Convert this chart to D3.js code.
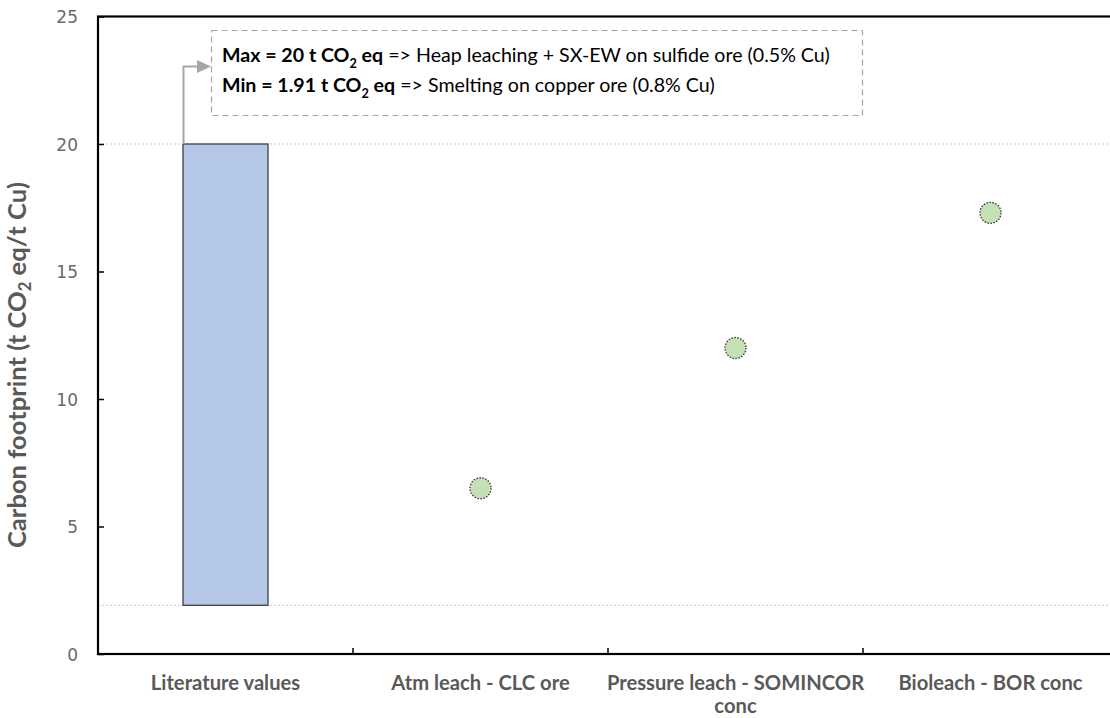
<!DOCTYPE html>
<html><head><meta charset="utf-8">
<script src="https://cdn.jsdelivr.net/npm/d3@7"></script>
<style>body{margin:0;background:#fff;} svg{display:block;font-family:Lato,"Open Sans",sans-serif;}</style>
</head><body>
<svg id="c" width="1110" height="718"></svg>
<script>
const categories = ["Literature values","Atm leach - CLC ore","Pressure leach - SOMINCOR conc","Bioleach - BOR conc"];
const rangeCategory = "Literature values";
const rangeMin = 1.91, rangeMax = 20;
const pointCategories = ["Atm leach - CLC ore","Pressure leach - SOMINCOR conc","Bioleach - BOR conc"];
const pointValues = [6.5, 12.0, 17.3];
const yTicks = [0,5,10,15,20,25];
const annoLines = [
  {bold:"Max = 20 t CO", sub:"2", bold2:" eq", rest:" => Heap leaching + SX-EW on sulfide ore (0.5% Cu)"},
  {bold:"Min = 1.91 t CO", sub:"2", bold2:" eq", rest:" => Smelting on copper ore (0.8% Cu)"}
];

const svg = d3.select("#c");
const L=98, R=1118, T=16.5, B=654;
const x = d3.scaleBand().domain(categories).range([L,R]);
const y = d3.scaleLinear().domain([0,25]).range([B,T]);

function fit(sel, base, target){
  sel.style("font-size", base+"px");
  const w = sel.node().getBBox().width;
  const s = base*target/w;
  sel.style("font-size", s+"px");
  return s;
}

svg.selectAll("line.ref").data([rangeMax, rangeMin]).join("line")
  .attr("x1",L).attr("x2",R).attr("y1",d=>y(d)).attr("y2",d=>y(d))
  .attr("stroke","#c8c8c8").attr("stroke-width",1).attr("stroke-dasharray","2,2");

const bw = x.bandwidth()/3;
svg.append("rect")
  .attr("x", x(rangeCategory)+x.bandwidth()/2-bw/2).attr("width",bw)
  .attr("y", y(rangeMax)).attr("height", y(rangeMin)-y(rangeMax))
  .attr("fill","#b4c7e7").attr("stroke","#404040").attr("stroke-width",1.3);

svg.selectAll("circle.pt").data(pointValues).join("circle")
  .attr("cx",(d,i)=>x(pointCategories[i])+x.bandwidth()/2)
  .attr("cy",d=>y(d)).attr("r",10.5)
  .attr("fill","#c5e0b4").attr("stroke","#333").attr("stroke-width",1.3).attr("stroke-dasharray","1.5,1.5");

const yAxis = d3.axisLeft(y).tickValues(yTicks).tickSize(6).tickPadding(10);
const gy = svg.append("g").attr("transform",`translate(${L},0)`).call(yAxis);
gy.attr("font-family","DejaVu Sans").attr("font-size",17);
gy.select(".domain").remove();
gy.selectAll(".tick line").attr("stroke","#000").attr("stroke-width",1.5).attr("x1",0).attr("x2",6);
gy.selectAll(".tick text").attr("fill","#6a6a6a").attr("x",-20).attr("dy","0.36em").attr("text-anchor","end");

const gx = svg.append("g").attr("transform",`translate(0,${B})`).call(d3.axisBottom(x).tickSize(0).tickFormat(""));
gx.select(".domain").remove();
svg.selectAll("line.ct").data(categories.slice(1)).join("line")
  .attr("x1",d=>x(d)).attr("x2",d=>x(d)).attr("y1",B).attr("y2",B-6)
  .attr("stroke","#000").attr("stroke-width",1.5);

svg.append("rect").attr("x",L).attr("y",T).attr("width",R-L).attr("height",B-T)
  .attr("fill","none").attr("stroke","#000").attr("stroke-width",2.2);

const labelLines = {"Pressure leach - SOMINCOR conc":["Pressure leach - SOMINCOR","conc"]};
const tmp = svg.append("text").style("font-weight","bold").text(categories[0]);
const catSize = fit(tmp, 15, 150); tmp.remove();
categories.forEach(c=>{
  const lines = labelLines[c] || [c];
  const t = svg.append("text").attr("x",x(c)+x.bandwidth()/2).attr("y",690)
    .attr("text-anchor","middle").attr("fill","#595959").style("font-weight","bold").style("font-size",catSize+"px");
  lines.forEach((l,i)=>t.append("tspan").attr("x",x(c)+x.bandwidth()/2).attr("dy",i?23:0).text(l));
});

const yt = svg.append("text").attr("transform","translate(26,365) rotate(-90)")
  .attr("text-anchor","middle").attr("fill","#595959").style("font-weight","bold");
yt.append("tspan").text("Carbon footprint (t CO");
yt.append("tspan").attr("dy",5).attr("class","sub").text("2");
yt.append("tspan").attr("dy",-5).text(" eq/t Cu)");
const ys = fit(yt, 17, 372);
yt.select(".sub").style("font-size",(ys*0.65)+"px");

svg.append("rect").attr("x",211.5).attr("y",30.5).attr("width",651).attr("height",85)
  .attr("fill","#fff").attr("stroke","#a6a6a6").attr("stroke-width",1.2).attr("stroke-dasharray","6,4");
const ax = x(rangeCategory)+x.bandwidth()/2-bw/2+0.5;
svg.append("path").attr("d",`M${ax},${y(rangeMax)} V66.5 H199`).attr("fill","none")
  .attr("stroke","#a6a6a6").attr("stroke-width",2);
svg.append("path").attr("d","M197,60 L211,66.5 L197,73 Z").attr("fill","#a6a6a6");

let annoSize = null;
annoLines.forEach((a,i)=>{
  const t = svg.append("text").attr("x",222).attr("y",62+i*30).attr("fill","#000");
  t.append("tspan").style("font-weight","bold").text(a.bold);
  t.append("tspan").style("font-weight","bold").attr("dy",6).attr("class","sub").text(a.sub);
  t.append("tspan").style("font-weight","bold").attr("dy",-6).text(a.bold2);
  t.append("tspan").text(a.rest);
  if(annoSize===null) annoSize = fit(t, 16, 612);
  else t.style("font-size", annoSize+"px");
  t.select(".sub").style("font-size",(annoSize*0.65)+"px");
});
</script>
</body></html>
